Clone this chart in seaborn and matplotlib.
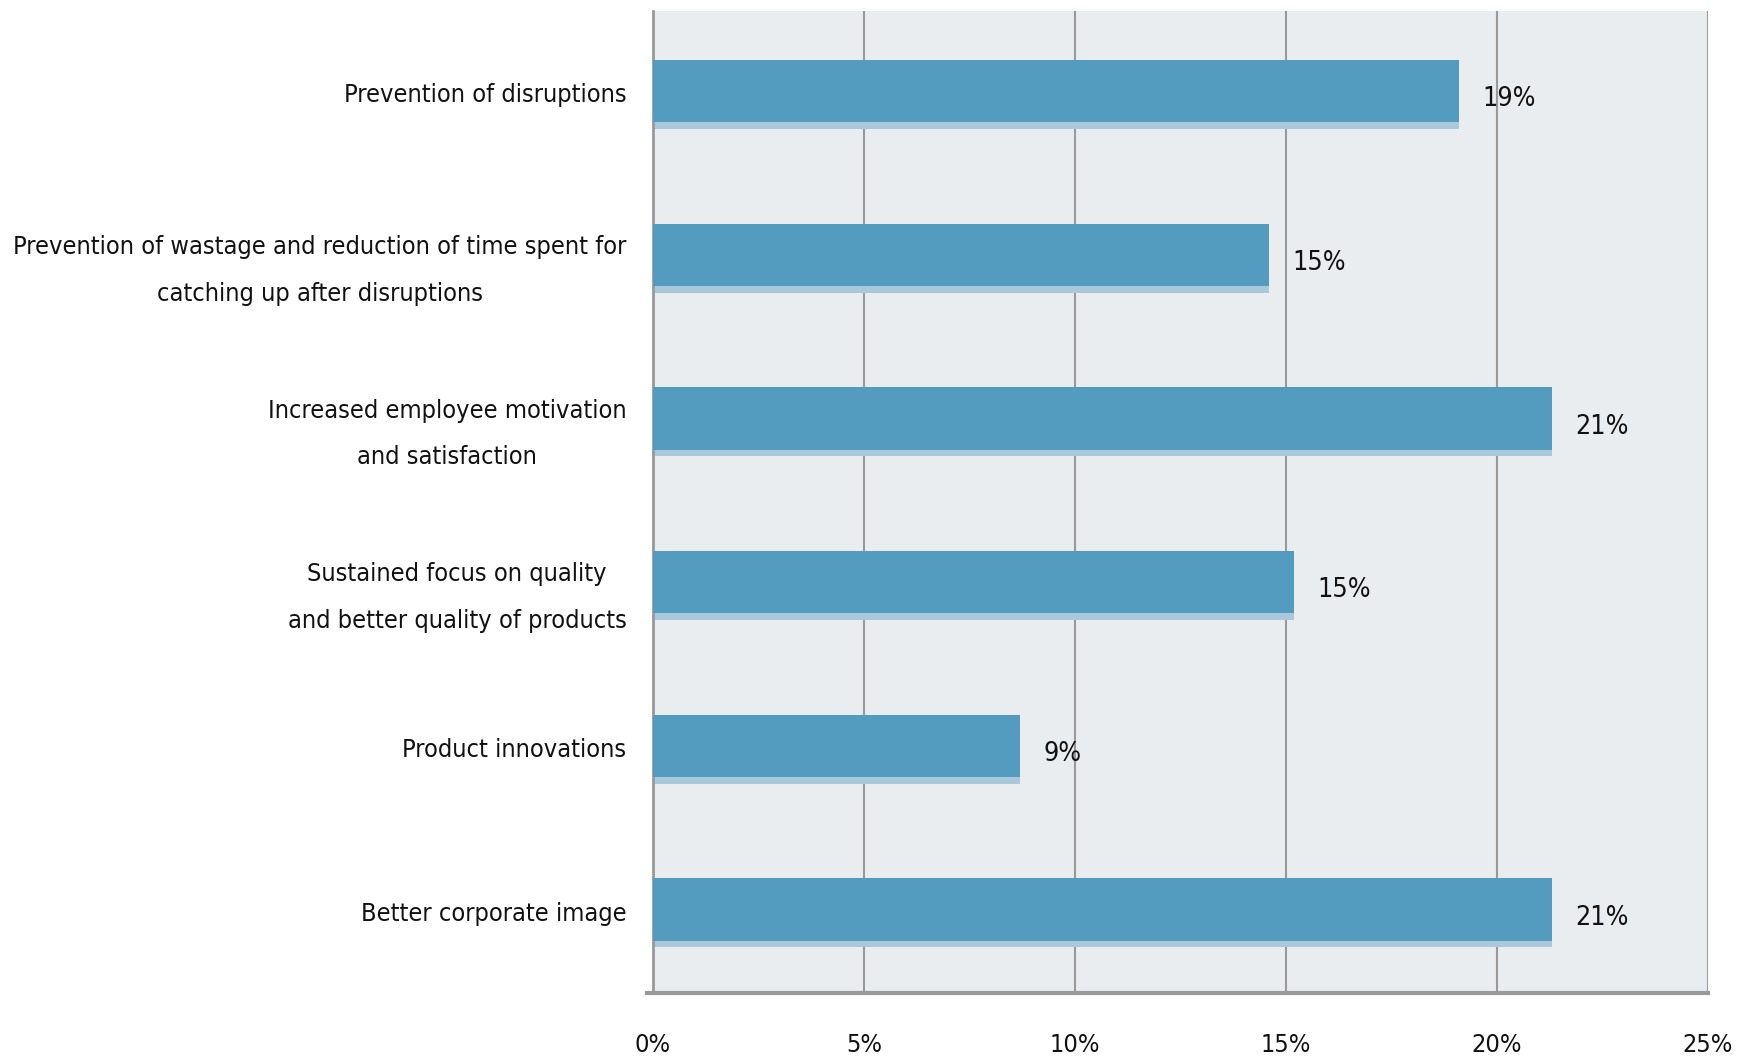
import numpy as np
import pandas as pd
import seaborn as sns
import matplotlib.pyplot as plt
from matplotlib import font_manager
from matplotlib.ticker import FuncFormatter, FixedLocator

# Данные
categories = [
    'Prevention of disruptions',
    'Prevention of wastage and reduction of time spent for\ncatching up after disruptions',
    'Increased employee motivation\nand satisfaction',
    'Sustained focus on quality\nand better quality of products',
    'Product innovations',
    'Better corporate image',
]
values = [19.1, 14.6, 21.3, 15.2, 8.7, 21.3]
value_labels = ['19%', '15%', '21%', '15%', '9%', '21%']
x_ticks = [0, 5, 10, 15, 20, 25]

df = pd.DataFrame({'cat': categories, 'val': values})

sns.set_style('white')
# узкий шрифт, если есть
fp = font_manager.FontProperties(family='DejaVu Sans', stretch='condensed')
if 'Condensed' in font_manager.findfont(fp):
    plt.rcParams['font.family'] = ['DejaVu Sans']
    plt.rcParams['font.stretch'] = 'condensed'
    FS = 18.2
else:
    plt.rcParams['font.family'] = ['DejaVu Sans']
    FS = 16

fig = plt.figure(figsize=(17.5, 10.57), dpi=100)
ax = fig.add_axes([653 / 1750, 1 - 993 / 1057, (1708 - 653) / 1750, (993 - 11) / 1057])
ax.set_facecolor('#eaedf0')

# тень под столбцами
ax.barh(np.arange(len(values)) + 0.02, values, height=0.40,
        color='#a9c8da', linewidth=0, zorder=2)
sns.barplot(data=df, x='val', y='cat', orient='h', color='#539cc0',
            saturation=1, width=0.38, linewidth=0, ax=ax, zorder=3)
for p in ax.patches[len(values):]:
    p.set_y(p.get_y() - 0.01)

for i, (v, lab) in enumerate(zip(values, value_labels)):
    ax.text(v + 0.55, i + 0.04, lab, va='center', ha='left', fontsize=FS + 1,
            color='#111111', zorder=4)

ax.set_xlim(0, 25)
ax.set_ylim(len(values) - 0.5, -0.5)
ax.xaxis.set_major_locator(FixedLocator(x_ticks))
ax.xaxis.set_major_formatter(FuncFormatter(lambda x, _: f'{int(x)}%'))
ax.grid(axis='x', color='#999999', linewidth=1.5, zorder=1)
ax.set_axisbelow(True)

ax.set_yticks(range(len(values)))
ax.set_yticklabels(categories, multialignment='center', fontsize=FS, color='#111111',
                   linespacing=2.2)
ax.tick_params(axis='y', which='major', length=0, pad=19)
ax.yaxis.set_minor_locator(FixedLocator(np.arange(-0.5, len(values), 1.0)))
ax.tick_params(axis='y', which='minor', length=11, width=2, color='#999999')
ax.tick_params(axis='x', length=11, width=2, color='#999999', pad=18,
               labelsize=FS, labelcolor='#111111')

ax.set_xlabel('')
ax.set_ylabel('')
for s in ['top', 'right']:
    ax.spines[s].set_visible(False)
ax.spines['left'].set_color('#999999')
ax.spines['left'].set_linewidth(2)
ax.spines['bottom'].set_color('#999999')
ax.spines['bottom'].set_linewidth(3)
ax.spines['bottom'].set_bounds(-0.15, 25)

fig.savefig('out.png', dpi=100)
